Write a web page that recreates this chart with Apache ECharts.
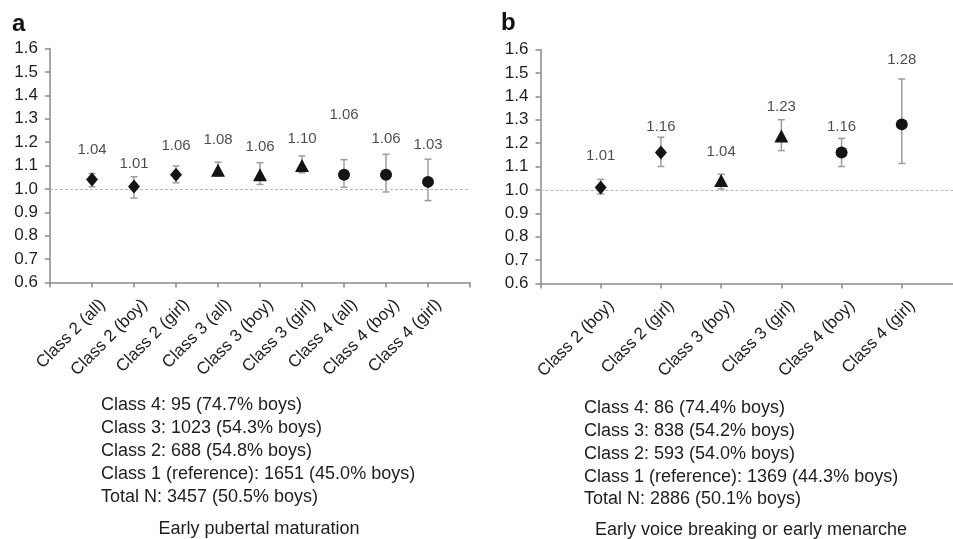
<!DOCTYPE html>
<html>
<head>
<meta charset="utf-8">
<script src="https://cdn.jsdelivr.net/npm/echarts@6/dist/echarts.min.js"></script>
<style>html,body{margin:0;padding:0;background:#fff}#c{width:953px;height:539px}</style>
</head>
<body>
<div id="c"></div>
<script>
// ---------- data ----------
const catsA = ['Class 2 (all)', 'Class 2 (boy)', 'Class 2 (girl)', 'Class 3 (all)', 'Class 3 (boy)', 'Class 3 (girl)', 'Class 4 (all)', 'Class 4 (boy)', 'Class 4 (girl)'];
const orA = [1.04, 1.01, 1.06, 1.08, 1.06, 1.10, 1.06, 1.06, 1.03];
const loA = [1.009, 0.961, 1.026, 1.055, 1.019, 1.069, 1.007, 0.987, 0.950];
const hiA = [1.066, 1.052, 1.098, 1.114, 1.112, 1.141, 1.125, 1.148, 1.127];
const labelAtA = [1.167, 1.109, 1.184, 1.210, 1.181, 1.213, 1.318, 1.215, 1.187];

const catsB = ['Class 2 (boy)', 'Class 2 (girl)', 'Class 3 (boy)', 'Class 3 (girl)', 'Class 4 (boy)', 'Class 4 (girl)'];
const orB = [1.01, 1.16, 1.04, 1.23, 1.16, 1.28];
const loB = [0.983, 1.100, 1.004, 1.168, 1.100, 1.113];
const hiB = [1.045, 1.225, 1.067, 1.300, 1.220, 1.474];
const labelAtB = [1.147, 1.268, 1.161, 1.357, 1.271, 1.554];

const yTicks = [0.6, 0.7, 0.8, 0.9, 1.0, 1.1, 1.2, 1.3, 1.4, 1.5, 1.6];

const notesA = ['Class 4: 95 (74.7% boys)', 'Class 3: 1023 (54.3% boys)', 'Class 2: 688 (54.8% boys)', 'Class 1 (reference): 1651 (45.0% boys)', 'Total N: 3457 (50.5% boys)'];
const notesB = ['Class 4: 86 (74.4% boys)', 'Class 3: 838 (54.2% boys)', 'Class 2: 593 (54.0% boys)', 'Class 1 (reference): 1369 (44.3% boys)', 'Total N: 2886 (50.1% boys)'];
const captionA = 'Early pubertal maturation';
const captionB = 'Early voice breaking or early menarche';

// ---------- styling ----------
const FONT = 'Liberation Sans';
const AXIS_COLOR = '#8a8a8a';
const TEXT_COLOR = '#1e1e1e';
const shapeFor = c => ({ '2': 'diamond', '3': 'triangle', '4': 'circle' })[c.match(/Class (\d)/)[1]];
const sizeFor = s => s === 'diamond' ? [12, 14] : (s === 'triangle' ? [14, 13] : 12);

function axes(idx, cats) {
  const x = {
    type: 'category', gridIndex: idx, boundaryGap: false,
    data: [''].concat(cats).concat(['']),
    axisLine: { lineStyle: { color: AXIS_COLOR, width: 1.5 } },
    axisTick: { show: true, interval: 0, length: 5, lineStyle: { color: AXIS_COLOR, width: 1.5 } },
    axisLabel: { interval: 0, rotate: 45, margin: 9, verticalAlign: 'top', lineHeight: 30,
      fontFamily: FONT, fontSize: 17, color: TEXT_COLOR },
    splitLine: { show: false }
  };
  const y = {
    type: 'value', gridIndex: idx, min: yTicks[0], max: yTicks[yTicks.length - 1], interval: 0.1,
    axisLine: { show: true, lineStyle: { color: AXIS_COLOR, width: 1.5 } },
    axisTick: { show: true, length: 5, lineStyle: { color: AXIS_COLOR, width: 1.5 } },
    axisLabel: { margin: 12, fontFamily: FONT, fontSize: 17, color: TEXT_COLOR, formatter: v => v.toFixed(1) },
    splitLine: { show: false }
  };
  return [x, y];
}

function seriesFor(idx, cats, or, lo, hi, labelAt) {
  return [
    {
      type: 'custom', xAxisIndex: idx, yAxisIndex: idx, z: 2, clip: false,
      data: cats.map((c, i) => [i + 1, lo[i], hi[i]]),
      encode: { x: 0, y: [1, 2] },
      renderItem: function (params, api) {
        const pLo = api.coord([api.value(0), api.value(1)]);
        const pHi = api.coord([api.value(0), api.value(2)]);
        const w = 3.5;
        const st = { stroke: '#9c9c9c', lineWidth: 1.5 };
        return { type: 'group', children: [
          { type: 'line', shape: { x1: pLo[0], y1: pLo[1], x2: pHi[0], y2: pHi[1] }, style: st },
          { type: 'line', shape: { x1: pLo[0] - w, y1: pLo[1], x2: pLo[0] + w, y2: pLo[1] }, style: st },
          { type: 'line', shape: { x1: pHi[0] - w, y1: pHi[1], x2: pHi[0] + w, y2: pHi[1] }, style: st }
        ] };
      },
      markLine: {
        silent: true, symbol: 'none', label: { show: false },
        lineStyle: { color: '#b5b5b5', type: [3, 2], width: 1 },
        data: [{ yAxis: 1.0 }]
      }
    },
    {
      type: 'scatter', xAxisIndex: idx, yAxisIndex: idx, z: 5,
      itemStyle: { color: '#141414', opacity: 1 },
      data: cats.map((c, i) => {
        const s = shapeFor(c);
        return { value: [i + 1, or[i]], symbol: s, symbolSize: sizeFor(s) };
      })
    },
    {
      type: 'scatter', xAxisIndex: idx, yAxisIndex: idx, z: 6, symbolSize: 0,
      itemStyle: { color: 'transparent' },
      data: cats.map((c, i) => [i + 1, labelAt[i], or[i]]),
      label: { show: true, position: 'inside', fontFamily: FONT, fontSize: 15, color: TEXT_COLOR,
        textBorderWidth: 0, textBorderColor: 'transparent',
        formatter: p => p.value[2].toFixed(2) }
    }
  ];
}

const [xa, ya] = axes(0, catsA);
const [xb, yb] = axes(1, catsB);

const graphics = [];
graphics.push({ type: 'text', left: 12, top: 12, style: { text: 'a', fontFamily: FONT, fontWeight: 'bold', fontSize: 24, fill: '#111' } });
graphics.push({ type: 'text', left: 501, top: 11, style: { text: 'b', fontFamily: FONT, fontWeight: 'bold', fontSize: 24, fill: '#111' } });
notesA.forEach((t, i) => graphics.push({ type: 'text', x: 101, y: 405 + i * 23,
  style: { text: t, fontFamily: FONT, fontSize: 18, fill: TEXT_COLOR, textAlign: 'left', textVerticalAlign: 'middle' } }));
notesB.forEach((t, i) => graphics.push({ type: 'text', x: 584, y: 408.5 + i * 22.75,
  style: { text: t, fontFamily: FONT, fontSize: 18, fill: TEXT_COLOR, textAlign: 'left', textVerticalAlign: 'middle' } }));
graphics.push({ type: 'text', x: 259, y: 529, style: { text: captionA, fontFamily: FONT, fontSize: 18, fill: TEXT_COLOR, textAlign: 'center', textVerticalAlign: 'middle' } });
graphics.push({ type: 'text', x: 751, y: 530, style: { text: captionB, fontFamily: FONT, fontSize: 18, fill: TEXT_COLOR, textAlign: 'center', textVerticalAlign: 'middle' } });

const chart = echarts.init(document.getElementById('c'), null, { renderer: 'canvas' });
chart.setOption({
  animation: false,
  backgroundColor: '#fff',
  grid: [
    { left: 50, top: 48.5, width: 420, height: 234, outerBoundsMode: 'none', containLabel: false },
    { left: 540.5, top: 49.5, width: 421.5, height: 234, outerBoundsMode: 'none', containLabel: false }
  ],
  xAxis: [xa, xb],
  yAxis: [ya, yb],
  series: seriesFor(0, catsA, orA, loA, hiA, labelAtA).concat(seriesFor(1, catsB, orB, loB, hiB, labelAtB)),
  graphic: graphics
});
</script>
</body>
</html>
